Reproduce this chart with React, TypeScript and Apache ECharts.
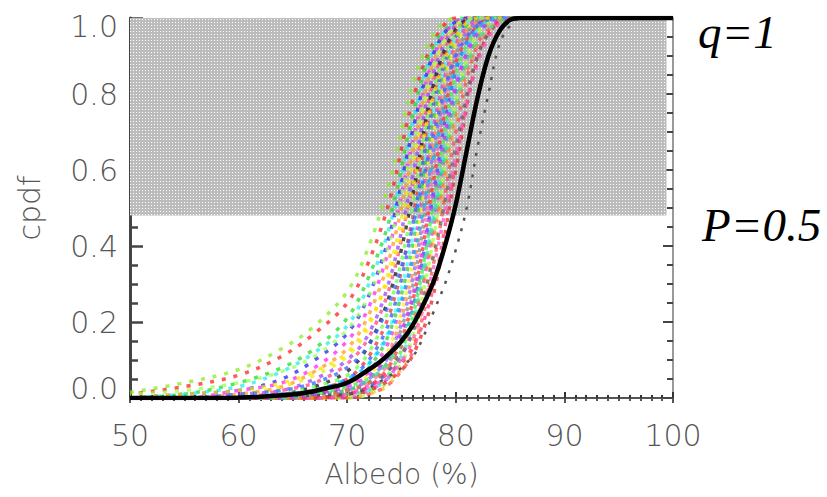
import React, { useEffect, useRef } from "react";
import * as echarts from "echarts";

// Shared x grid (Albedo %) for all curves
const albedo = [50, 55, 60, 64, 67, 70, 72, 74, 76, 78, 80, 82, 84, 86, 100];

// Main (thick black) cumulative curve
const mainX = [50, 58, 60, 62, 64, 66, 68, 70, 72, 73, 74, 75, 76, 77, 78, 79, 80, 81, 82, 83, 84, 85, 86, 100];
const mainY = [0, 0, 0.001, 0.003, 0.007, 0.013, 0.025, 0.04, 0.075, 0.095, 0.12, 0.15, 0.19, 0.245, 0.31, 0.4, 0.51, 0.65, 0.79, 0.9, 0.965, 0.995, 1, 1];

// Dark grey dotted curve just right of the black one
const greyX = [50, 70, 74, 76, 77, 78, 79, 80, 81, 82, 83, 84, 85, 86, 100];
const greyY = [0, 0.01, 0.06, 0.108, 0.16, 0.23, 0.3, 0.39, 0.5, 0.66, 0.8, 0.93, 0.98, 1, 1];

// Coloured dotted realisations (values at the albedo grid)
const realisations: number[][] = [
  [0.015, 0.04, 0.075, 0.13, 0.19, 0.28, 0.40, 0.58, 0.82, 0.96, 1, 1, 1, 1, 1],
  [0.01, 0.03, 0.06, 0.11, 0.17, 0.25, 0.36, 0.53, 0.78, 0.94, 1, 1, 1, 1, 1],
  [0, 0.01, 0.04, 0.08, 0.13, 0.21, 0.32, 0.48, 0.74, 0.93, 0.99, 1, 1, 1, 1],
  [0, 0.01, 0.03, 0.07, 0.12, 0.19, 0.30, 0.46, 0.72, 0.92, 0.99, 1, 1, 1, 1],
  [0, 0.01, 0.02, 0.05, 0.10, 0.17, 0.27, 0.44, 0.70, 0.91, 0.99, 1, 1, 1, 1],
  [0, 0, 0.02, 0.04, 0.08, 0.15, 0.24, 0.41, 0.67, 0.90, 0.99, 1, 1, 1, 1],
  [0, 0, 0.01, 0.03, 0.07, 0.13, 0.22, 0.38, 0.64, 0.89, 0.98, 1, 1, 1, 1],
  [0, 0, 0.01, 0.03, 0.06, 0.11, 0.19, 0.35, 0.61, 0.87, 0.98, 1, 1, 1, 1],
  [0, 0, 0.01, 0.02, 0.05, 0.10, 0.17, 0.32, 0.58, 0.86, 0.98, 1, 1, 1, 1],
  [0, 0, 0, 0.02, 0.04, 0.09, 0.16, 0.30, 0.56, 0.84, 0.97, 1, 1, 1, 1],
  [0, 0, 0, 0.01, 0.03, 0.07, 0.14, 0.28, 0.53, 0.83, 0.97, 1, 1, 1, 1],
  [0, 0, 0, 0.01, 0.03, 0.06, 0.12, 0.25, 0.50, 0.81, 0.96, 1, 1, 1, 1],
  [0, 0, 0, 0.01, 0.02, 0.05, 0.11, 0.23, 0.47, 0.79, 0.96, 1, 1, 1, 1],
  [0, 0, 0, 0.01, 0.02, 0.05, 0.10, 0.21, 0.45, 0.78, 0.95, 1, 1, 1, 1],
  [0, 0, 0, 0, 0.02, 0.04, 0.09, 0.19, 0.42, 0.76, 0.95, 1, 1, 1, 1],
  [0, 0, 0, 0, 0.01, 0.04, 0.08, 0.18, 0.40, 0.74, 0.94, 0.995, 1, 1, 1],
  [0, 0, 0, 0, 0.01, 0.03, 0.07, 0.16, 0.37, 0.72, 0.93, 0.995, 1, 1, 1],
  [0, 0, 0, 0, 0.01, 0.03, 0.06, 0.14, 0.35, 0.70, 0.93, 0.99, 1, 1, 1],
  [0, 0, 0, 0, 0.01, 0.02, 0.05, 0.13, 0.33, 0.68, 0.92, 0.99, 1, 1, 1],
  [0, 0, 0, 0, 0, 0.02, 0.05, 0.12, 0.31, 0.66, 0.91, 0.99, 1, 1, 1],
  [0, 0, 0, 0, 0, 0.02, 0.04, 0.11, 0.29, 0.63, 0.90, 0.99, 1, 1, 1],
  [0, 0, 0, 0, 0, 0.01, 0.04, 0.10, 0.27, 0.61, 0.89, 0.985, 1, 1, 1],
  [0, 0, 0, 0, 0, 0.01, 0.03, 0.09, 0.25, 0.58, 0.88, 0.98, 1, 1, 1],
  [0, 0, 0, 0, 0, 0.01, 0.03, 0.08, 0.23, 0.55, 0.86, 0.98, 1, 1, 1],
  [0, 0, 0, 0, 0, 0.01, 0.02, 0.07, 0.21, 0.52, 0.85, 0.975, 1, 1, 1],
  [0, 0, 0, 0, 0, 0.01, 0.02, 0.06, 0.19, 0.49, 0.83, 0.97, 1, 1, 1],
  [0, 0, 0, 0, 0, 0, 0.02, 0.06, 0.18, 0.46, 0.81, 0.97, 1, 1, 1],
  [0, 0, 0, 0, 0, 0, 0.01, 0.05, 0.16, 0.43, 0.78, 0.96, 1, 1, 1],
  [0, 0, 0, 0, 0, 0, 0.01, 0.04, 0.14, 0.40, 0.74, 0.95, 0.995, 1, 1],
  [0, 0, 0, 0, 0, 0, 0.01, 0.04, 0.12, 0.36, 0.70, 0.93, 0.99, 1, 1],
  [0, 0, 0, 0, 0, 0.01, 0.03, 0.07, 0.13, 0.30, 0.62, 0.90, 0.99, 1, 1],
  [0, 0, 0, 0, 0, 0.01, 0.02, 0.05, 0.11, 0.28, 0.60, 0.89, 0.99, 1, 1],
  [0, 0, 0, 0, 0.01, 0.02, 0.04, 0.08, 0.17, 0.38, 0.66, 0.90, 0.99, 1, 1],
  [0, 0, 0, 0, 0, 0.01, 0.03, 0.06, 0.15, 0.35, 0.64, 0.88, 0.985, 1, 1],
  [0, 0, 0, 0, 0.01, 0.02, 0.05, 0.11, 0.24, 0.50, 0.80, 0.95, 1, 1, 1],
  [0, 0, 0.01, 0.02, 0.04, 0.08, 0.14, 0.26, 0.45, 0.70, 0.90, 0.98, 1, 1, 1],
  [0, 0.01, 0.02, 0.04, 0.07, 0.12, 0.20, 0.33, 0.55, 0.80, 0.95, 1, 1, 1, 1],
  [0.01, 0.02, 0.04, 0.07, 0.11, 0.18, 0.27, 0.42, 0.66, 0.88, 0.98, 1, 1, 1, 1],
  [0, 0, 0, 0.01, 0.02, 0.05, 0.09, 0.18, 0.36, 0.64, 0.87, 0.97, 1, 1, 1],
  [0, 0, 0, 0, 0.01, 0.03, 0.06, 0.12, 0.26, 0.54, 0.82, 0.96, 0.995, 1, 1],
  [0, 0, 0, 0, 0, 0.02, 0.04, 0.09, 0.20, 0.44, 0.75, 0.93, 0.99, 1, 1],
  [0, 0, 0, 0, 0.01, 0.03, 0.05, 0.10, 0.22, 0.47, 0.77, 0.94, 0.99, 1, 1],
];

const palette = [
  "#88ee22", "#ff2020", "#22dd22", "#22eeee", "#2222ff", "#ff22ff",
  "#ff9922", "#eeee00", "#9944ff", "#ff4488", "#111111", "#66ff44",
  "#ee3333", "#3355ff", "#33ffff", "#33cc33", "#ee33cc", "#ffee22",
  "#ff8844", "#8866ff", "#888888", "#ff66aa", "#ff3030", "#4040ff",
  "#44ee44", "#44dddd", "#dd44dd", "#aaff33", "#ffaa33", "#ff5050",
  "#ff3377", "#ee2222", "#666666", "#ff55cc", "#22cc99", "#3366ff",
  "#ffdd00", "#99ff55", "#00bbff", "#cc33ff", "#ff7733", "#33ee88",
];

const xTicks = [50, 60, 70, 80, 90, 100];
const yTicks = [0, 0.2, 0.4, 0.6, 0.8, 1.0];
const shadeRange = { x0: 50, x1: 99.4, y0: 0.48, y1: 1 };

export default function App() {
  const ref = useRef<HTMLDivElement>(null);
  useEffect(() => {
    if (!ref.current) return;
    const chart = echarts.init(ref.current, undefined, { renderer: "svg" });

    const cv = document.createElement("canvas");
    cv.width = 3;
    cv.height = 3;
    const ctx = cv.getContext("2d");
    if (ctx) {
      ctx.fillStyle = "#bcbcbc";
      ctx.fillRect(0, 0, 3, 3);
      ctx.fillStyle = "#ffffff";
      ctx.fillRect(1, 1, 1, 1);
    }

    const labelFont = {
      fontFamily: "DejaVu Sans",
      fontWeight: 300 as any,
      fontSize: 30,
      color: "#555",
    };

    const series: any[] = [];
    series.push({
      type: "line",
      z: 1,
      data: [],
      markArea: {
        silent: true,
        itemStyle: { color: { image: cv, repeat: "repeat" } as any },
        data: [[{ xAxis: shadeRange.x0, yAxis: shadeRange.y0 }, { xAxis: shadeRange.x1, yAxis: shadeRange.y1 }]],
      },
    });
    realisations.forEach((vals, i) => {
      series.push({
        type: "line",
        z: 2,
        showSymbol: false,
        smooth: 0.35,
        data: albedo.map((x, j) => [x, vals[j]]),
        lineStyle: {
          color: palette[i % palette.length],
          width: 3.5,
          type: [4, 8],
          dashOffset: (i * 3) % 12,
          opacity: 0.75,
          cap: "butt",
        },
      });
    });
    series.push({
      type: "line",
      z: 3,
      showSymbol: false,
      smooth: 0.35,
      data: greyX.map((x, j) => [x, greyY[j]]),
      lineStyle: { color: "#555", width: 2.5, type: [3, 8] },
    });
    series.push({
      type: "line",
      z: 4,
      showSymbol: false,
      smooth: 0.35,
      data: mainX.map((x, j) => [x, mainY[j]]),
      lineStyle: { color: "#000", width: 4.5 },
    });

    chart.setOption({
      animation: false,
      grid: { left: 130, right: 154, top: 18, bottom: 99 },
      xAxis: [
        {
          type: "value",
          min: xTicks[0],
          max: xTicks[xTicks.length - 1],
          interval: 10,
          name: "Albedo (%)",
          nameLocation: "middle",
          nameGap: 62,
          nameTextStyle: { ...labelFont, fontSize: 28 },
          axisLine: { show: true, onZero: false, lineStyle: { color: "#333", width: 2 } },
          axisTick: { show: true, inside: true, length: 6, lineStyle: { color: "#333", width: 2 } },
          minorTick: { show: true, splitNumber: 10, length: 3, lineStyle: { color: "#333", width: 2 } },
          axisLabel: { ...labelFont, margin: 22 },
          splitLine: { show: false },
        },
        {
          type: "value",
          position: "top",
          min: 50,
          max: 100,
          interval: 10,
          axisLine: { show: true, lineStyle: { color: "#555", width: 2 } },
          axisTick: { show: true, inside: true, length: 5, lineStyle: { color: "#555", width: 2 } },
          minorTick: { show: true, splitNumber: 10, length: 3, lineStyle: { color: "#555", width: 2 } },
          axisLabel: { show: false },
          splitLine: { show: false },
        },
      ],
      yAxis: [
        {
          type: "value",
          min: yTicks[0],
          max: yTicks[yTicks.length - 1],
          interval: 0.2,
          name: "cpdf",
          nameLocation: "middle",
          nameGap: 86,
          nameTextStyle: { ...labelFont, fontSize: 30 },
          axisLine: { show: true, onZero: false, lineStyle: { color: "#444", width: 3 } },
          axisTick: { show: true, inside: true, length: 13, lineStyle: { color: "#444", width: 2.5 } },
          minorTick: { show: true, splitNumber: 4, length: 8, lineStyle: { color: "#444", width: 2.5 } },
          axisLabel: {
            ...labelFont,
            margin: 12,
            formatter: (v: number) =>
              v >= 0.999 ? "{t|1.0}" : v <= 0.001 ? "{b|0.0}" : v.toFixed(1),
            rich: {
              t: { ...labelFont, padding: [16, 0, 0, 0] },
              b: { ...labelFont, padding: [0, 0, 20, 0] },
            },
          },
          splitLine: { show: false },
        },
        {
          type: "value",
          position: "right",
          min: 0,
          max: 1,
          interval: 0.2,
          axisLine: { show: true, lineStyle: { color: "#999", width: 2 } },
          axisTick: { show: true, inside: true, length: 10, lineStyle: { color: "#444", width: 2 } },
          minorTick: { show: true, splitNumber: 4, length: 6, lineStyle: { color: "#444", width: 2 } },
          axisLabel: { show: false },
          splitLine: { show: false },
        },
      ],
      graphic: [
        {
          type: "text",
          left: 698,
          top: 8,
          style: {
            text: "q=1",
            fontFamily: "Liberation Serif",
            fontStyle: "italic",
            fontSize: 47,
            fill: "#000",
          },
        },
        {
          type: "text",
          left: 702,
          top: 201,
          style: {
            text: "P=0.5",
            fontFamily: "Liberation Serif",
            fontStyle: "italic",
            fontSize: 47,
            fill: "#000",
          },
        },
      ],
      series,
    });
    return () => chart.dispose();
  }, []);
  return (
    <div
      ref={ref}
      style={{ position: "fixed", left: 0, top: 0, width: 827, height: 497, background: "#fff" }}
    />
  );
}
